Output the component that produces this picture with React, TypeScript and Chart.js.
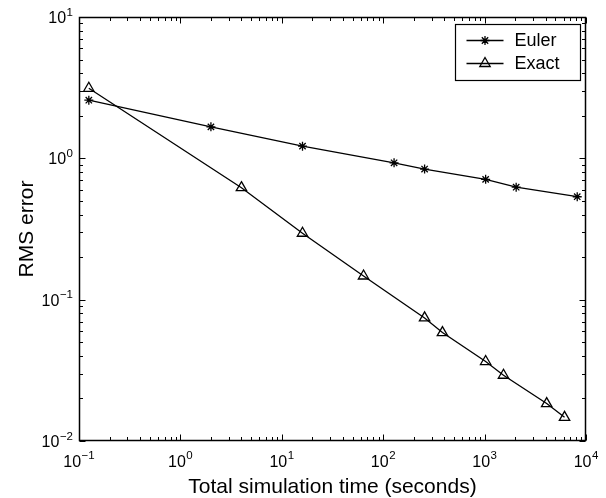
import React, { useEffect, useRef } from 'react';
import { Chart, registerables } from 'chart.js';

Chart.register(...registerables);

// ---- data ----
const eulerTime = [0.125, 2, 16, 128, 256, 1024, 2048, 8192];
const eulerRms = [2.58, 1.67, 1.22, 0.93, 0.84, 0.71, 0.625, 0.535];
const exactTime = [0.125, 4, 16, 64, 256, 384, 1024, 1536, 4096, 6144];
const exactRms = [3.13, 0.62, 0.295, 0.147, 0.0743, 0.0585, 0.0365, 0.0292, 0.0184, 0.0147];
const seriesLabels = ['Euler', 'Exact'];
const xDecades = [-1, 0, 1, 2, 3, 4];
const yDecades = [-2, -1, 0, 1];
const xTitle = 'Total simulation time (seconds)';
const yTitle = 'RMS error';

const FONT = '"Liberation Sans", Arial, Helvetica, sans-serif';

function drawStar(ctx: CanvasRenderingContext2D, x: number, y: number, r: number) {
  ctx.beginPath();
  for (let k = 0; k < 4; k++) {
    const a = (k * Math.PI) / 4;
    ctx.moveTo(x + Math.cos(a) * r, y + Math.sin(a) * r);
    ctx.lineTo(x - Math.cos(a) * r, y - Math.sin(a) * r);
  }
  ctx.stroke();
}

function drawTriangle(ctx: CanvasRenderingContext2D, x: number, y: number, r: number) {
  ctx.beginPath();
  for (let k = 0; k < 3; k++) {
    const a = (k * 2 * Math.PI) / 3;
    const px = x + Math.sin(a) * r;
    const py = y - Math.cos(a) * r;
    if (k === 0) ctx.moveTo(px, py);
    else ctx.lineTo(px, py);
  }
  ctx.closePath();
  ctx.stroke();
}

function drawPow(
  ctx: CanvasRenderingContext2D,
  d: number,
  x: number,
  baseline: number,
  align: 'center' | 'right'
) {
  const base = '10';
  const exp = d < 0 ? '\u2212' + Math.abs(d) : String(d);
  ctx.textAlign = 'left';
  ctx.textBaseline = 'alphabetic';
  ctx.font = `16px ${FONT}`;
  const wb = ctx.measureText(base).width;
  ctx.font = `11.5px ${FONT}`;
  const we = ctx.measureText(exp).width;
  const total = wb + we + 0.5;
  const sx = align === 'center' ? x - total / 2 : x - total;
  ctx.font = `16px ${FONT}`;
  ctx.fillText(base, sx, baseline);
  ctx.font = `11.5px ${FONT}`;
  ctx.fillText(exp, sx + wb + 0.5, baseline - 7.5);
}

const axesPlugin = {
  id: 'matlabAxes',
  afterDraw(chart: any) {
    const ctx: CanvasRenderingContext2D = chart.ctx;
    const ca = chart.chartArea;
    const xs = chart.scales.x;
    const ys = chart.scales.y;
    const L = Math.round(ca.left) + 0.5;
    const R = Math.round(ca.right) - 0.5;
    const T = Math.round(ca.top) + 0.5;
    const B = Math.round(ca.bottom) - 0.5;
    ctx.save();
    ctx.strokeStyle = '#000';
    ctx.fillStyle = '#000';
    ctx.lineWidth = 1;

    // ticks
    const major = 6;
    const minor = 3.5;
    ctx.beginPath();
    xDecades.forEach((d, i) => {
      const px = Math.round(xs.getPixelForValue(Math.pow(10, d))) + 0.5;
      ctx.moveTo(px, B); ctx.lineTo(px, B - major);
      ctx.moveTo(px, T); ctx.lineTo(px, T + major);
      if (i < xDecades.length - 1) {
        for (let m = 2; m <= 9; m++) {
          const mx = Math.round(xs.getPixelForValue(m * Math.pow(10, d))) + 0.5;
          ctx.moveTo(mx, B); ctx.lineTo(mx, B - minor);
          ctx.moveTo(mx, T); ctx.lineTo(mx, T + minor);
        }
      }
    });
    yDecades.forEach((d, i) => {
      const py = Math.round(ys.getPixelForValue(Math.pow(10, d))) + 0.5;
      ctx.moveTo(L, py); ctx.lineTo(L + major, py);
      ctx.moveTo(R, py); ctx.lineTo(R - major, py);
      if (i < yDecades.length - 1) {
        for (let m = 2; m <= 9; m++) {
          const my = Math.round(ys.getPixelForValue(m * Math.pow(10, d))) + 0.5;
          ctx.moveTo(L, my); ctx.lineTo(L + minor, my);
          ctx.moveTo(R, my); ctx.lineTo(R - minor, my);
        }
      }
    });
    ctx.stroke();

    // box
    ctx.lineWidth = 1.5;
    ctx.strokeRect(L, T, R - L, B - T);

    // tick labels
    xDecades.forEach((d) => {
      const px = xs.getPixelForValue(Math.pow(10, d));
      drawPow(ctx, d, px, ca.bottom + 25.5, 'center');
    });
    yDecades.forEach((d) => {
      const py = ys.getPixelForValue(Math.pow(10, d));
      drawPow(ctx, d, ca.left - 6, py + 6, 'right');
    });

    // axis titles
    ctx.font = `21px ${FONT}`;
    ctx.textAlign = 'center';
    ctx.textBaseline = 'alphabetic';
    ctx.fillText(xTitle, (ca.left + ca.right) / 2, ca.bottom + 52);
    ctx.save();
    ctx.translate(ca.left - 46, (ca.top + ca.bottom) / 2);
    ctx.rotate(-Math.PI / 2);
    ctx.fillText(yTitle, 0, 0);
    ctx.restore();

    // legend
    const bw = 125;
    const bh = 56;
    const bx = Math.round(ca.right) - 6 - bw + 0.5;
    const by = Math.round(ca.top) + 7 + 0.5;
    ctx.fillStyle = '#fff';
    ctx.fillRect(bx, by, bw, bh);
    ctx.strokeStyle = '#000';
    ctx.lineWidth = 1.2;
    ctx.strokeRect(bx, by, bw, bh);
    ctx.fillStyle = '#000';
    chart.data.datasets.forEach((ds: any, i: number) => {
      const ry = by + 16 + i * 23;
      ctx.lineWidth = 1.3;
      ctx.beginPath();
      ctx.moveTo(bx + 11, ry);
      ctx.lineTo(bx + 48, ry);
      ctx.stroke();
      const mx = bx + 29.5;
      if (ds.pointStyle === 'star') drawStar(ctx, mx, ry, 4.5);
      else drawTriangle(ctx, mx, ry, 6);
      ctx.font = `18px ${FONT}`;
      ctx.textAlign = 'left';
      ctx.textBaseline = 'middle';
      ctx.fillText(ds.label, bx + 59, ry + 1);
    });

    ctx.restore();
  },
};

export default function App() {
  const ref = useRef<HTMLCanvasElement | null>(null);
  useEffect(() => {
    document.body.style.margin = '0';
    const canvas = ref.current;
    if (!canvas) return;
    const chart = new Chart(canvas, {
      type: 'line',
      data: {
        datasets: [
          {
            label: seriesLabels[0],
            data: eulerTime.map((t, i) => ({ x: t, y: eulerRms[i] })),
            borderColor: '#000',
            backgroundColor: 'rgba(0,0,0,0)',
            borderWidth: 1.3,
            pointStyle: 'star',
            pointRadius: 4.5,
            pointBorderWidth: 1.3,
            pointBorderColor: '#000',
            pointBackgroundColor: 'rgba(0,0,0,0)',
            tension: 0,
          },
          {
            label: seriesLabels[1],
            data: exactTime.map((t, i) => ({ x: t, y: exactRms[i] })),
            borderColor: '#000',
            backgroundColor: 'rgba(0,0,0,0)',
            borderWidth: 1.3,
            pointStyle: 'triangle',
            pointRadius: 6,
            pointBorderWidth: 1.3,
            pointBorderColor: '#000',
            pointBackgroundColor: 'rgba(0,0,0,0)',
            tension: 0,
          },
        ],
      },
      options: {
        animation: false,
        responsive: false,
        devicePixelRatio: 1,
        layout: { padding: { left: 79, right: 20, top: 17, bottom: 57 } },
        plugins: { legend: { display: false }, tooltip: { enabled: false } },
        scales: {
          x: { type: 'logarithmic', min: 0.1, max: 10000, display: false },
          y: { type: 'logarithmic', min: 0.01, max: 10, display: false },
        },
      },
      plugins: [axesPlugin],
    } as any);
    return () => chart.destroy();
  }, []);
  return (
    <div style={{ position: 'absolute', left: 0, top: 0, width: 606, height: 498, background: '#fff' }}>
      <canvas ref={ref} width={606} height={498} />
    </div>
  );
}
